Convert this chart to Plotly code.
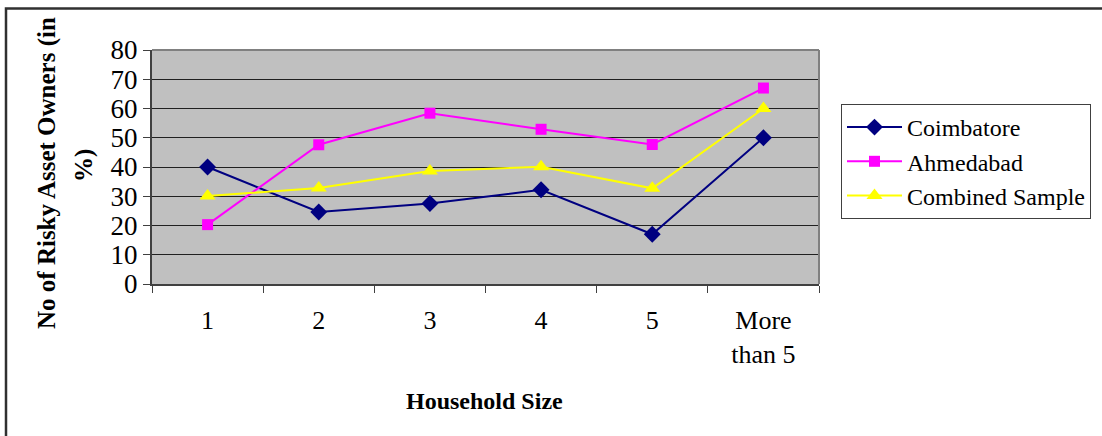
import plotly.graph_objects as go

# Household size categories and share of risky asset owners (%)
household_size = ["1", "2", "3", "4", "5", "More<br>than 5"]
coimbatore = [40.0, 24.6, 27.5, 32.2, 17.0, 50.0]
ahmedabad = [20.3, 47.6, 58.4, 52.9, 47.7, 67.0]
combined_sample = [30.1, 32.8, 38.6, 40.1, 32.7, 60.0]
y_ticks = [0, 10, 20, 30, 40, 50, 60, 70, 80]

W, H = 1102, 436
L, R, T, B = 152, 819, 50, 284  # plot area in pixels
FONT = "Liberation Serif, Times New Roman, serif"


def px_x(p):
    return (p - L) / (R - L)


def px_y(p):
    return (B - p) / (B - T)


fig = go.Figure()
fig.add_trace(go.Scatter(
    x=household_size, y=coimbatore, name="Coimbatore", mode="lines+markers",
    line=dict(color="#000080", width=2),
    marker=dict(symbol="diamond", size=13, color="#000080"),
))
fig.add_trace(go.Scatter(
    x=household_size, y=ahmedabad, name="Ahmedabad", mode="lines+markers",
    line=dict(color="#FF00FF", width=2),
    marker=dict(symbol="square", size=11, color="#FF00FF"),
))
fig.add_trace(go.Scatter(
    x=household_size, y=combined_sample, name="Combined Sample", mode="lines+markers",
    line=dict(color="#FFFF00", width=2),
    marker=dict(symbol="triangle-up", size=14, color="#FFFF00"),
))

fig.update_layout(
    width=W, height=H,
    margin=dict(l=L, r=W - R, t=T, b=H - B, autoexpand=False),
    paper_bgcolor="white",
    plot_bgcolor="#C0C0C0",
    font=dict(family=FONT, size=26, color="black"),
    showlegend=True,
    legend=dict(
        x=px_x(841), y=px_y(104), xanchor="left", yanchor="top",
        bgcolor="white", bordercolor="#404040", borderwidth=1,
        font=dict(family=FONT, size=24, color="black"),
        itemwidth=55,
    ),
    xaxis=dict(
        type="category", range=[-0.5, 5.5],
        showgrid=False, showline=True, linecolor="#404040", linewidth=2,
        ticks="outside", tickson="boundaries", ticklen=7, tickcolor="#404040",
        tickfont=dict(family=FONT, size=26), ticklabelstandoff=12,
        zeroline=False,
    ),
    yaxis=dict(
        range=[0, 80], tickvals=y_ticks,
        showgrid=True, gridcolor="#202020", gridwidth=1,
        showline=True, linecolor="#404040", linewidth=2,
        ticks="outside", ticklen=7, tickcolor="#404040",
        tickfont=dict(family=FONT, size=27),
        zeroline=False,
    ),
    shapes=[
        # plot area frame (top and right)
        dict(type="line", xref="paper", yref="paper", x0=0, x1=1, y0=1, y1=1,
             line=dict(color="#808080", width=2)),
        dict(type="line", xref="paper", yref="paper", x0=1, x1=1, y0=0, y1=1,
             line=dict(color="#808080", width=2)),
        # outer chart border
        dict(type="rect", xref="paper", yref="paper",
             x0=px_x(6), x1=px_x(1120), y0=px_y(460), y1=px_y(8.5),
             line=dict(color="#303030", width=2.5), fillcolor="rgba(0,0,0,0)"),
    ],
    annotations=[
        dict(text="<b>No of Risky Asset Owners (in</b>", xref="paper", yref="paper",
             x=px_x(47), y=px_y(173), textangle=-90, showarrow=False,
             font=dict(family=FONT, size=25), xanchor="center", yanchor="middle"),
        dict(text="<b>%)</b>", xref="paper", yref="paper",
             x=px_x(84), y=px_y(166), textangle=-90, showarrow=False,
             font=dict(family=FONT, size=25), xanchor="center", yanchor="middle"),
        dict(text="<b>Household Size</b>", xref="paper", yref="paper",
             x=px_x(484), y=px_y(401), showarrow=False,
             font=dict(family=FONT, size=24), xanchor="center", yanchor="middle"),
    ],
)

fig.write_html("out.html")
